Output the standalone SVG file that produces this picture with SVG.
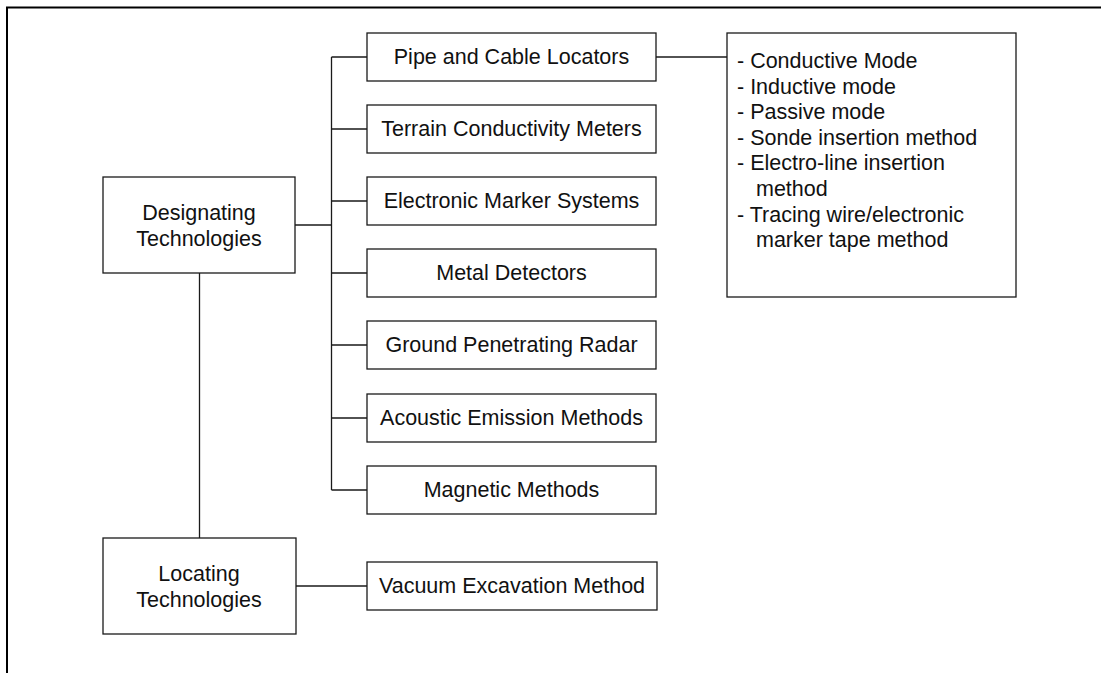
<svg xmlns="http://www.w3.org/2000/svg" width="1101" height="673" viewBox="0 0 1101 673">
<style>
.box{fill:#fff;stroke:#1a1a1a;stroke-width:1.3}
.t{font-family:"Liberation Sans",Arial,sans-serif;font-size:21.5px;fill:#111;text-anchor:middle}
.l{font-family:"Liberation Sans",Arial,sans-serif;font-size:21.5px;fill:#111}
.c{fill:none;stroke:#1a1a1a;stroke-width:1.3}
</style>
<rect x="0" y="0" width="1101" height="673" fill="#fff"/>
<g id="frame"><path d="M7 673 V7.5 H1101" fill="none" stroke="#000" stroke-width="2"/></g>
<g id="connectors">
<path class="c" d="M295 225 H331.5"/>
<path class="c" d="M331.5 57 V490"/>
<path class="c" d="M331.5 57 H367 M331.5 129 H367 M331.5 201 H367 M331.5 273 H367 M331.5 345 H367 M331.5 418 H367 M331.5 490 H367"/>
<path class="c" d="M656 57 H727"/>
<path class="c" d="M199.5 273 V538"/>
<path class="c" d="M296 586 H367"/>
</g>
<g id="designating"><rect class="box" x="103" y="177" width="192" height="96"/><text class="t" x="199" y="219.5">Designating</text><text class="t" x="199" y="245.5">Technologies</text></g>
<g id="locating"><rect class="box" x="103" y="538" width="193" height="96"/><text class="t" x="199" y="580.5">Locating</text><text class="t" x="199" y="606.5">Technologies</text></g>
<g id="pipe"><rect class="box" x="367" y="33" width="289" height="48"/><text class="t" x="511.5" y="64">Pipe and Cable Locators</text></g>
<g id="terrain"><rect class="box" x="367" y="105" width="289" height="48"/><text class="t" x="511.5" y="136">Terrain Conductivity Meters</text></g>
<g id="electronic"><rect class="box" x="367" y="177" width="289" height="48"/><text class="t" x="511.5" y="208">Electronic Marker Systems</text></g>
<g id="metal"><rect class="box" x="367" y="249" width="289" height="48"/><text class="t" x="511.5" y="280">Metal Detectors</text></g>
<g id="gpr"><rect class="box" x="367" y="321" width="289" height="48"/><text class="t" x="511.5" y="352">Ground Penetrating Radar</text></g>
<g id="acoustic"><rect class="box" x="367" y="394" width="289" height="48"/><text class="t" x="511.5" y="425">Acoustic Emission Methods</text></g>
<g id="magnetic"><rect class="box" x="367" y="466" width="289" height="48"/><text class="t" x="511.5" y="497">Magnetic Methods</text></g>
<g id="vacuum"><rect class="box" x="367" y="562" width="290" height="48"/><text class="t" x="512" y="593">Vacuum Excavation Method</text></g>
<g id="modes"><rect class="box" x="727" y="33" width="289" height="264"/>
<text class="l"><tspan x="737" y="68">- Conductive Mode</tspan><tspan x="737" y="93.6">- Inductive mode</tspan><tspan x="737" y="119.2">- Passive mode</tspan><tspan x="737" y="144.8">- Sonde insertion method</tspan><tspan x="737" y="170.4">- Electro-line insertion</tspan><tspan x="756" y="196">method</tspan><tspan x="737" y="221.6">- Tracing wire/electronic</tspan><tspan x="756" y="247.2">marker tape method</tspan></text></g>
</svg>
